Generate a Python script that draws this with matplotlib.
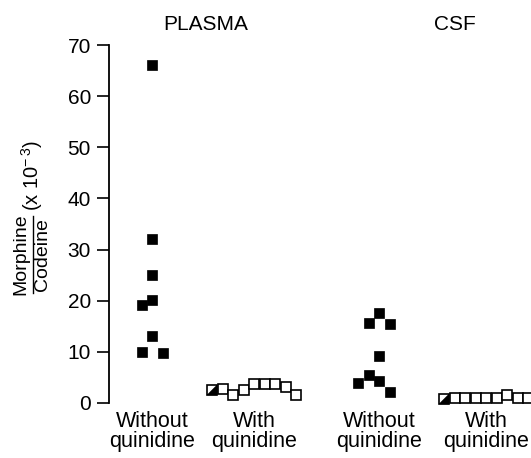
import matplotlib
matplotlib.use("Agg")
import matplotlib.pyplot as plt
from matplotlib.path import Path
from matplotlib.lines import Line2D

plt.rcParams['font.family'] = ['Liberation Sans', 'DejaVu Sans']
plt.rcParams['mathtext.fontset'] = 'custom'
plt.rcParams['mathtext.rm'] = 'Liberation Sans'
plt.rcParams['mathtext.it'] = 'Liberation Sans'

# ---- data ----
panels = ["PLASMA", "CSF"]
categories = ["Without\nquinidine", "With\nquinidine", "Without\nquinidine", "With\nquinidine"]
cat_pos = [152, 254, 379, 486]          # horizontal category positions
col_step = 10.5                          # spacing of jitter columns

plasma_without = [66.0, 32.0, 25.0, 20.2, 19.2, 13.1, 10.0, 9.7]
plasma_without_col = [0, 0, 0, 0, -1, 0, -1, 1]

plasma_with = [2.5, 2.8, 1.6, 2.5, 3.7, 3.7, 3.7, 3.2, 1.6]
plasma_with_col = [-4, -3, -2, -1, 0, 1, 2, 3, 4]

csf_without = [17.5, 15.7, 15.5, 9.2, 5.5, 4.0, 4.2, 2.2]
csf_without_col = [0, -1, 1, 0, -1, -2, 0, 1]

csf_with = [0.8, 0.9, 0.9, 0.9, 0.9, 0.9, 1.5, 1.0, 1.0]
csf_with_col = [-4, -3, -2, -1, 0, 1, 2, 3, 4]

half_filled_index = 0   # first point of each "with" group is half-filled

yticks = [0, 10, 20, 30, 40, 50, 60, 70]

# ---- figure ----
W, H = 531, 458
fig = plt.figure(figsize=(W / 100, H / 100), dpi=100)
ax = fig.add_axes([109 / W, 1 - 418.3 / H, (W - 109) / W, (418.3 - 34.8) / H])
ax.set_xlim(109, 531)
ax.set_ylim(-3, 72)

for s in ["top", "right", "bottom"]:
    ax.spines[s].set_visible(False)
ax.spines["left"].set_bounds(0, 70)
ax.spines["left"].set_linewidth(1.3)
ax.set_yticks(yticks)
ax.tick_params(axis="y", length=9, width=1.2, pad=4, labelsize=15)
ax.set_xticks(cat_pos, categories)
ax.tick_params(axis="x", length=0, pad=-5, labelsize=15.5)
for lab in ax.get_xticklabels():
    lab.set_linespacing(0.9)

def xs(group, cols):
    return [cat_pos[group] + c * col_step for c in cols]

# filled squares
for g, vals, cols in [(0, plasma_without, plasma_without_col), (2, csf_without, csf_without_col)]:
    ax.plot(xs(g, cols), vals, ls="none", marker="s", ms=7.8, mfc="black", mec="black",
            mew=0.5, clip_on=False)

# open squares (with one half-filled)
tri = Path([(-0.5, -0.5), (0.5, -0.5), (0.5, 0.5), (-0.5, -0.5)],
           [Path.MOVETO, Path.LINETO, Path.LINETO, Path.CLOSEPOLY])
for g, vals, cols in [(1, plasma_with, plasma_with_col), (3, csf_with, csf_with_col)]:
    x = xs(g, cols)
    ax.plot(x, vals, ls="none", marker="s", ms=6.6, mfc="white", mec="black",
            mew=1.2, clip_on=False)
    ax.plot([x[half_filled_index]], [vals[half_filled_index]], ls="none", marker=tri,
            ms=6.6, mfc="black", mec="black", mew=0.3, clip_on=False)

# panel titles
fig.text(206 / W, 1 - 24 / H, panels[0], ha="center", va="center", fontsize=15)
fig.text(455 / W, 1 - 24 / H, panels[1], ha="center", va="center", fontsize=15)

# y-axis label (fraction)
fig.text(21 / W, 1 - 254 / H, "Morphine", rotation=90, ha="center", va="center", fontsize=14)
fig.text(43 / W, 1 - 255 / H, "Codeine", rotation=90, ha="center", va="center", fontsize=14)
fig.add_artist(Line2D([33 / W, 33 / W], [1 - 216 / H, 1 - 293 / H], color="black", lw=1.0,
                      transform=fig.transFigure))
fig.text(32 / W, 1 - 176 / H, r"(x 10$^{-\,3}$)", rotation=90, ha="center", va="center",
         fontsize=14.5)

fig.savefig("out.png", dpi=100)
